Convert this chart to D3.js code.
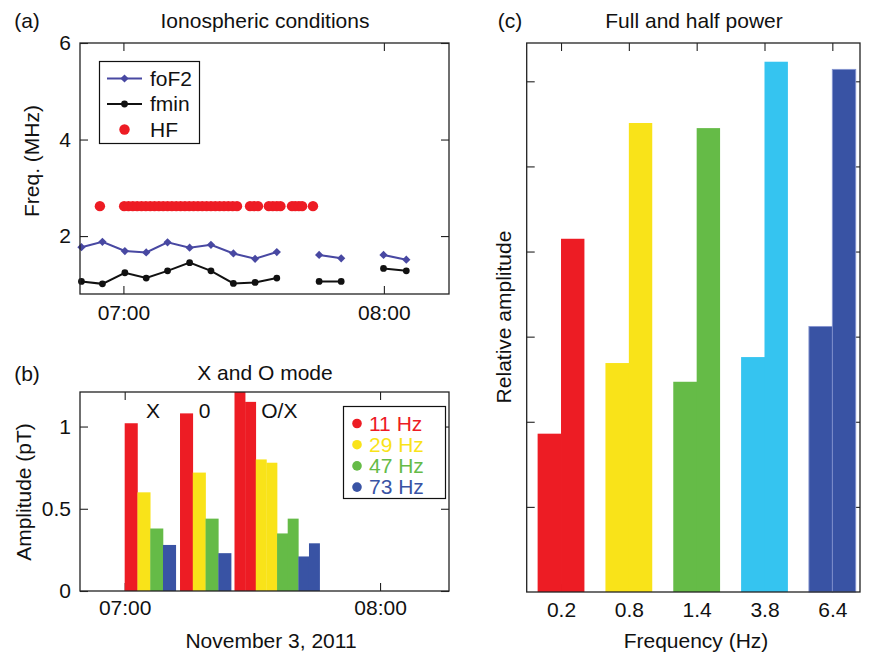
<!DOCTYPE html>
<html>
<head>
<meta charset="utf-8">
<script src="https://cdn.jsdelivr.net/npm/d3@7"></script>
<style>
  body { margin: 0; background: #fff; }
  svg text { font-family: "Liberation Sans", Arial, Helvetica, sans-serif; fill: #111; }
</style>
</head>
<body>
<svg id="fig" width="872" height="656"></svg>
<script>
// ---- (a) ionospheric conditions ----
var sondeTimes = ["06:50:20","06:55:10","07:00:20","07:05:15","07:10:10","07:15:15","07:20:10","07:25:20",
                  "07:30:20","07:35:20","07:40:15","07:45:05","07:50:10","07:55:05","07:59:55","08:05:10"];
var foF2 = [1.77,1.88,1.69,1.66,1.87,1.76,1.82,1.64,1.53,1.67,null,1.61,1.54,null,1.61,1.51];
var fmin = [1.06,1.01,1.24,1.13,1.28,1.45,1.28,1.02,1.04,1.13,null,1.06,1.06,null,1.33,1.28];
var hfTimes = ["06:54:35",
  "07:00:10","07:01:10","07:02:10","07:03:10","07:04:10","07:05:10","07:06:10","07:07:10","07:08:10",
  "07:09:10","07:10:10","07:11:10","07:12:10","07:13:10","07:14:10","07:15:10","07:16:10","07:17:10",
  "07:18:10","07:19:10","07:20:10","07:21:10","07:22:10","07:23:10","07:24:10","07:25:10","07:26:10",
  "07:29:10","07:30:05","07:31:00","07:33:30","07:34:25","07:35:20","07:36:10",
  "07:38:50","07:39:35","07:40:25","07:41:10","07:43:40"];
var hfFreq = 2.62;

// ---- (b) X and O mode ----
var bands = ["11 Hz","29 Hz","47 Hz","73 Hz"];
var bandColors = ["#ed1c24","#f9e319","#65bb47","#3953a4"];
var barStart = ["07:00:00","07:03:00","07:06:00","07:09:00","07:13:00","07:16:00","07:19:00","07:22:00",
                "07:25:48","07:28:18","07:30:48","07:33:18","07:35:48","07:38:18","07:40:48","07:43:18"];
var barEnd   = ["07:03:00","07:06:00","07:09:00","07:12:00","07:16:00","07:19:00","07:22:00","07:25:00",
                "07:28:18","07:30:48","07:33:18","07:35:48","07:38:18","07:40:48","07:43:18","07:45:48"];
var barAmp   = [1.02,0.60,0.38,0.28, 1.08,0.72,0.44,0.23, 1.26,1.15,0.80,0.78,0.35,0.44,0.21,0.29];
var barBand  = [0,1,2,3, 0,1,2,3, 0,0,1,1,2,2,3,3];
var modeLabels = ["X","0","O/X"];
var modeLabelTimes = ["07:06:40","07:18:45","07:36:20"];
var modeLabelAmp = 1.05;

// ---- (c) full and half power ----
var freqLabels = ["0.2","0.8","1.4","3.8","6.4"];
var halfPower = [1.86,2.69,2.47,2.76,3.12];
var fullPower = [4.15,5.51,5.45,6.23,6.14];
var freqColors = ["#ed1c24","#f9e319","#65bb47","#35c4f0","#3953a4"];

var svg = d3.select('#fig');
var parse = d3.timeParse("%H:%M:%S");
var hm = d3.timeFormat("%H:%M");
var frameColor = "#222";
var fs = 21;

function frame(l, t, r, b) {
  svg.append('rect')
    .attr('x', l).attr('y', t)
    .attr('width', r - l).attr('height', b - t)
    .attr('fill', 'none')
    .attr('stroke', frameColor)
    .attr('stroke-width', 1.3);
}

function styleAxis(g) {
  g.select('.domain').remove();
  g.selectAll('line').attr('stroke', frameColor).attr('stroke-width', 1.1);
  g.selectAll('text').attr('font-size', fs).attr('fill', '#111')
    .style('font-family', '"Liberation Sans", Arial, Helvetica, sans-serif');
}

function label(txt, x, y) {
  return svg.append('text')
    .text(txt)
    .attr('x', x)
    .attr('y', y)
    .attr('font-size', fs)
    .style('text-anchor', 'middle');
}

function ylabel(txt, x, y) {
  svg.append('text')
    .text(txt)
    .attr('transform', 'translate(' + x + ',' + y + ') rotate(-90)')
    .attr('font-size', fs)
    .style('text-anchor', 'middle');
}

// ================= panel (a) =================
var A = {l: 80, t: 43, r: 449, b: 294};
var xa = d3.scaleTime().domain([parse("06:50:00"), parse("08:15:00")]).range([A.l, A.r]);
var ya = d3.scaleLinear().domain([0.8, 6]).range([A.b, A.t]);
var hourTicks = [parse("07:00:00"), parse("08:00:00")];

svg.append('g').attr('transform', 'translate(0,' + A.b + ')')
  .call(d3.axisBottom(xa).tickValues(hourTicks).tickFormat(hm).tickSizeInner(-8).tickSizeOuter(0).tickPadding(11))
  .call(styleAxis);
svg.append('g').attr('transform', 'translate(0,' + A.t + ')')
  .call(d3.axisTop(xa).tickValues(hourTicks).tickFormat('').tickSizeInner(-8).tickSizeOuter(0))
  .call(styleAxis);
svg.append('g').attr('transform', 'translate(' + A.l + ',0)')
  .call(d3.axisLeft(ya).tickValues([2, 4, 6]).tickFormat(d3.format('d')).tickSizeInner(-8).tickSizeOuter(0).tickPadding(9))
  .call(styleAxis);
svg.append('g').attr('transform', 'translate(' + A.r + ',0)')
  .call(d3.axisRight(ya).tickValues([2, 4, 6]).tickFormat('').tickSizeInner(-8).tickSizeOuter(0))
  .call(styleAxis);

var sonde = sondeTimes.map(function(s, i) { return {t: parse(s), foF2: foF2[i], fmin: fmin[i]}; });

var lineFo = d3.line().defined(function(d) { return d.foF2 != null; })
  .x(function(d) { return xa(d.t); }).y(function(d) { return ya(d.foF2); });
var lineFmin = d3.line().defined(function(d) { return d.fmin != null; })
  .x(function(d) { return xa(d.t); }).y(function(d) { return ya(d.fmin); });

var foColor = "#4848a2";
var diamond = d3.symbol().type(d3.symbolSquare).size(34);

svg.append('g').selectAll('circle.hf')
  .data(hfTimes)
  .enter().append('circle')
  .attr('cx', function(d) { return xa(parse(d)); })
  .attr('cy', ya(hfFreq))
  .attr('r', 5.2)
  .attr('fill', '#ed1c24');

svg.append('path').datum(sonde).attr('d', lineFo)
  .attr('fill', 'none').attr('stroke', foColor).attr('stroke-width', 2);
svg.append('g').selectAll('path')
  .data(sonde.filter(function(d) { return d.foF2 != null; }))
  .enter().append('path')
  .attr('d', diamond)
  .attr('transform', function(d) { return 'translate(' + xa(d.t) + ',' + ya(d.foF2) + ') rotate(45)'; })
  .attr('fill', foColor);

svg.append('path').datum(sonde).attr('d', lineFmin)
  .attr('fill', 'none').attr('stroke', '#111').attr('stroke-width', 2);
svg.append('g').selectAll('circle')
  .data(sonde.filter(function(d) { return d.fmin != null; }))
  .enter().append('circle')
  .attr('cx', function(d) { return xa(d.t); })
  .attr('cy', function(d) { return ya(d.fmin); })
  .attr('r', 3.4)
  .attr('fill', '#111');

frame(A.l, A.t, A.r, A.b);

// legend (a)
var legA = svg.append('g');
legA.append('rect').attr('x', 99.5).attr('y', 61.5).attr('width', 100).attr('height', 82)
  .attr('fill', '#fff').attr('stroke', '#111').attr('stroke-width', 1.2);
legA.append('line').attr('x1', 107).attr('x2', 142).attr('y1', 78.5).attr('y2', 78.5)
  .attr('stroke', foColor).attr('stroke-width', 2);
legA.append('path').attr('d', diamond).attr('transform', 'translate(124.5,78.5) rotate(45)').attr('fill', foColor);
legA.append('line').attr('x1', 107).attr('x2', 142).attr('y1', 104).attr('y2', 104)
  .attr('stroke', '#111').attr('stroke-width', 2);
legA.append('circle').attr('cx', 124.5).attr('cy', 104).attr('r', 3.4).attr('fill', '#111');
legA.append('circle').attr('cx', 124.5).attr('cy', 129.5).attr('r', 5.2).attr('fill', '#ed1c24');
[["foF2", 78.5], ["fmin", 104], ["HF", 129.5]].forEach(function(e) {
  legA.append('text').text(e[0]).attr('x', 150).attr('y', e[1]).attr('dy', '0.35em')
    .attr('font-size', fs);
});

label("(a)", 27, 28);
label("Ionospheric conditions", 265, 28);
ylabel("Freq. (MHz)", 39, 161);

// ================= panel (b) =================
var B = {l: 80, t: 392, r: 449, b: 591};
var xb = d3.scaleTime().domain([parse("06:49:30"), parse("08:16:12")]).range([B.l, B.r]);
var yb = d3.scaleLinear().domain([0, 1.21]).range([B.b, B.t]);

svg.append('g').attr('transform', 'translate(0,' + B.b + ')')
  .call(d3.axisBottom(xb).tickValues(hourTicks).tickFormat(hm).tickSizeInner(-8).tickSizeOuter(0).tickPadding(9))
  .call(styleAxis);
svg.append('g').attr('transform', 'translate(0,' + B.t + ')')
  .call(d3.axisTop(xb).tickValues(hourTicks).tickFormat('').tickSizeInner(-8).tickSizeOuter(0))
  .call(styleAxis);
svg.append('g').attr('transform', 'translate(' + B.l + ',0)')
  .call(d3.axisLeft(yb).tickValues([0, 0.5, 1]).tickFormat(d3.format('')).tickSizeInner(-8).tickSizeOuter(0).tickPadding(9))
  .call(styleAxis);
svg.append('g').attr('transform', 'translate(' + B.r + ',0)')
  .call(d3.axisRight(yb).tickValues([0, 0.5, 1]).tickFormat('').tickSizeInner(-8).tickSizeOuter(0))
  .call(styleAxis);

svg.append('clipPath').attr('id', 'clipB').append('rect')
  .attr('x', B.l).attr('y', B.t).attr('width', B.r - B.l).attr('height', B.b - B.t);

svg.append('g').attr('clip-path', 'url(#clipB)')
  .selectAll('rect')
  .data(barAmp)
  .enter().append('rect')
  .attr('x', function(d, i) { return xb(parse(barStart[i])); })
  .attr('width', function(d, i) { return xb(parse(barEnd[i])) - xb(parse(barStart[i])) + 0.3; })
  .attr('y', function(d) { return yb(d); })
  .attr('height', function(d) { return yb(0) - yb(d); })
  .attr('fill', function(d, i) { return bandColors[barBand[i]]; });

frame(B.l, B.t, B.r, B.b);

modeLabels.forEach(function(m, i) {
  label(m, xb(parse(modeLabelTimes[i])), yb(modeLabelAmp));
});

// legend (b)
var legB = svg.append('g');
legB.append('rect').attr('x', 343.5).attr('y', 406.5).attr('width', 102).attr('height', 92)
  .attr('fill', '#fff').attr('stroke', '#111').attr('stroke-width', 1.2);
bands.forEach(function(b, i) {
  var y = 423.5 + i * 21.2;
  legB.append('circle').attr('cx', 357).attr('cy', y).attr('r', 4.8).attr('fill', bandColors[i]);
  legB.append('text').text(b).attr('x', 369).attr('y', y).attr('dy', '0.35em')
    .attr('font-size', fs).style('fill', bandColors[i]);
});

label("(b)", 27, 381);
label("X and O mode", 265, 380);
ylabel("Amplitude (pT)", 31, 492);
label("November 3, 2011", 271, 648);

// ================= panel (c) =================
var C = {l: 526.7, t: 43, r: 860, b: 592};
var xc = d3.scaleLinear().domain([0.494, 5.408]).range([C.l, C.r]);
var yc = d3.scaleLinear().domain([0, 6.45]).range([C.b, C.t]);
var catIdx = freqLabels.map(function(d, i) { return i + 1; });
var hw = 0.345;

svg.append('g').attr('transform', 'translate(0,' + C.b + ')')
  .call(d3.axisBottom(xc).tickValues(catIdx).tickFormat(function(d) { return freqLabels[d - 1]; })
    .tickSizeInner(-8).tickSizeOuter(0).tickPadding(10))
  .call(styleAxis);
svg.append('g').attr('transform', 'translate(0,' + C.t + ')')
  .call(d3.axisTop(xc).tickValues(catIdx).tickFormat('').tickSizeInner(-8).tickSizeOuter(0))
  .call(styleAxis);
svg.append('g').attr('transform', 'translate(' + C.l + ',0)')
  .call(d3.axisLeft(yc).tickValues([1, 2, 3, 4, 5, 6]).tickFormat('').tickSizeInner(-8).tickSizeOuter(0))
  .call(styleAxis);
svg.append('g').attr('transform', 'translate(' + C.r + ',0)')
  .call(d3.axisRight(yc).tickValues([1, 2, 3, 4, 5, 6]).tickFormat('').tickSizeInner(-8).tickSizeOuter(0))
  .call(styleAxis);

var gc = svg.append('g');
// half power (left of each tick)
gc.selectAll('rect.half')
  .data(halfPower)
  .enter().append('rect')
  .attr('class', 'half')
  .attr('x', function(d, i) { return xc(i + 1 - hw); })
  .attr('width', xc(hw) - xc(0) + 0.5)
  .attr('y', function(d) { return yc(d); })
  .attr('height', function(d) { return yc(0) - yc(d); })
  .attr('fill', function(d, i) { return freqColors[i]; });
// full power (right of each tick)
gc.selectAll('rect.full')
  .data(fullPower)
  .enter().append('rect')
  .attr('class', 'full')
  .attr('x', function(d, i) { return xc(i + 1); })
  .attr('width', xc(hw) - xc(0))
  .attr('y', function(d) { return yc(d); })
  .attr('height', function(d) { return yc(0) - yc(d); })
  .attr('fill', function(d, i) { return freqColors[i]; });
// the dark blue pair is outlined in the original
gc.selectAll('rect')
  .filter(function() { return d3.select(this).attr('fill') === '#3953a4'; })
  .attr('stroke', '#8594d0').attr('stroke-width', 0.9);

frame(C.l, C.t, C.r, C.b);

label("(c)", 510, 28);
label("Full and half power", 694, 28);
ylabel("Relative amplitude", 511, 317);
label("Frequency (Hz)", 696, 648);
</script>
</body>
</html>
